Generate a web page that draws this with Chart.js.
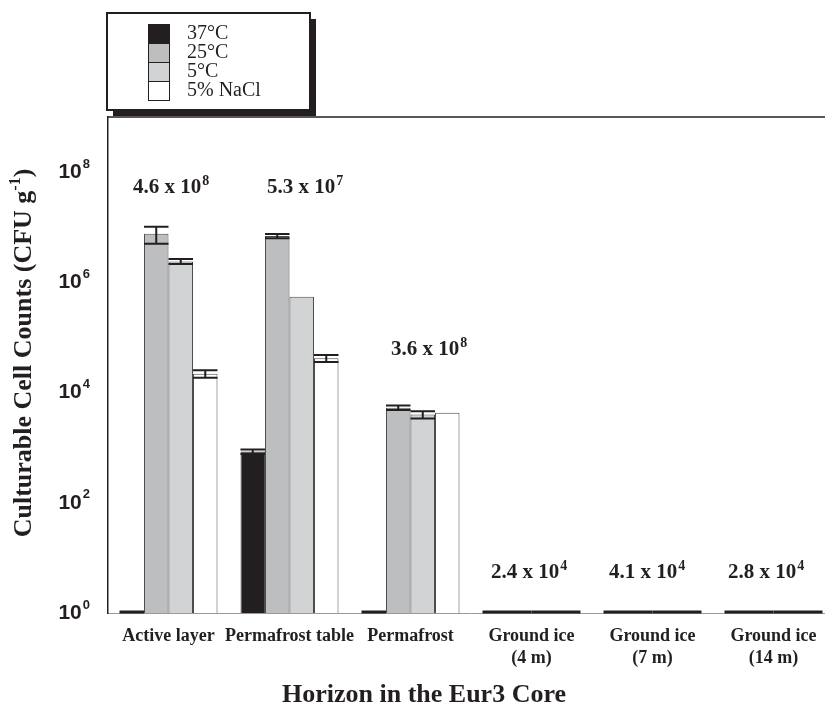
<!DOCTYPE html>
<html>
<head>
<meta charset="utf-8">
<script src="https://cdn.jsdelivr.net/npm/chart.js@4"></script>
<style>
  html, body { margin: 0; padding: 0; background: #fff; overflow: hidden; }
  #wrap { width: 840px; height: 716px; }
</style>
</head>
<body>
<div id="wrap"><canvas id="chart" width="840" height="716"></canvas></div>
<script>
// horizons along the core
const horizons = ["Active layer", "Permafrost table", "Permafrost",
  ["Ground ice", "(4 m)"], ["Ground ice", "(7 m)"], ["Ground ice", "(14 m)"]];
const series = ["37°C", "25°C", "5°C", "5% NaCl"];
const colors = ["#231f20", "#bcbec0", "#d1d3d4", "#ffffff"];

// CFU per gram, 0 = no growth
const counts37 = [0, 850, 0, 0, 0, 0];
const counts25 = [7.6e6, 6.9e6, 5.3e3, 0, 0, 0];
const counts5 = [2.4e6, 5.5e5, 4.0e3, 0, 0, 0];
const countsNaCl = [2.2e4, 4.2e4, 4.3e3, 0, 0, 0];

const err37 = [0, 80, 0, 0, 0, 0];
const err25 = [2.6e6, 0.6e6, 0.5e3, 0, 0, 0];
const err5 = [0.25e6, 0, 0.6e3, 0, 0, 0];
const errNaCl = [0.35e4, 0.6e4, 0, 0, 0, 0];

// total counts printed above each horizon
const totalMant = ["4.6", "5.3", "3.6", "2.4", "4.1", "2.8"];
const totalExp = ["8", "7", "8", "4", "4", "4"];

const yTicks = [1, 1e2, 1e4, 1e6, 1e8];

const allCounts = [counts37, counts25, counts5, countsNaCl];
const allErr = [err37, err25, err5, errNaCl];

const serif = "'Liberation Serif', 'Times New Roman', serif";
const sans = "'Liberation Sans', Arial, sans-serif";

const extras = {
  id: "extras",
  afterDatasetsDraw(chart) {
    const ctx = chart.ctx;
    const y = chart.scales.y;
    const area = chart.chartArea;
    ctx.save();
    allCounts.forEach((vals, j) => {
      const meta = chart.getDatasetMeta(j);
      vals.forEach((v, i) => {
        const el = meta.data[i];
        const w = el.width;
        ctx.strokeStyle = "#231f20";
        if (!v) {
          // no growth: heavy line on the baseline
          ctx.lineWidth = 3;
          ctx.beginPath();
          ctx.moveTo(el.x - w / 2, area.bottom - 1);
          ctx.lineTo(el.x + w / 2, area.bottom - 1);
          ctx.stroke();
          return;
        }
        const e = allErr[j][i];
        if (!e) return;
        const hi = y.getPixelForValue(v + e);
        const lo = y.getPixelForValue(v - e);
        ctx.lineWidth = 2;
        ctx.beginPath();
        ctx.moveTo(el.x, hi); ctx.lineTo(el.x, lo);
        ctx.moveTo(el.x - w / 2, hi); ctx.lineTo(el.x + w / 2, hi);
        ctx.moveTo(el.x - w / 2, lo); ctx.lineTo(el.x + w / 2, lo);
        ctx.stroke();
      });
    });
    ctx.restore();
  },
  afterDraw(chart) {
    const ctx = chart.ctx;
    const area = chart.chartArea;
    const x = chart.scales.x;
    const y = chart.scales.y;
    ctx.save();

    // top frame line
    ctx.strokeStyle = "#231f20";
    ctx.lineWidth = 1.5;
    ctx.beginPath();
    ctx.moveTo(area.left, area.top);
    ctx.lineTo(chart.width, area.top);
    ctx.stroke();

    // y tick labels 10^n
    ctx.fillStyle = "#231f20";
    ctx.textBaseline = "middle";
    yTicks.forEach(v => {
      const py = y.getPixelForValue(v);
      const exp = String(Math.round(Math.log10(v)));
      ctx.font = "bold 13px " + sans;
      const ew = ctx.measureText(exp).width;
      ctx.textAlign = "left";
      ctx.fillText(exp, 90 - ew, py - 8);
      ctx.font = "bold 21px " + sans;
      ctx.textAlign = "right";
      ctx.fillText("10", 90 - ew - 1, py);
    });

    // totals above each horizon
    const dx = [2, 15, 18, -3, -6, -8];
    const dy = [71, 71, 233, 456, 456, 456];
    totalMant.forEach((m, i) => {
      const base = m + " x 10";
      ctx.font = "bold 21px " + serif;
      const bw = ctx.measureText(base).width;
      ctx.font = "bold 14px " + serif;
      const ew = ctx.measureText(totalExp[i]).width;
      const cx = x.getPixelForValue(i) + dx[i];
      const left = cx - (bw + ew) / 2;
      const py = area.top + dy[i];
      ctx.textAlign = "left";
      ctx.textBaseline = "middle";
      ctx.font = "bold 21px " + serif;
      ctx.fillText(base, left, py);
      ctx.font = "bold 14px " + serif;
      ctx.fillText(totalExp[i], left + bw + 1, py - 7);
    });

    // y axis title, rotated
    ctx.save();
    ctx.translate(24, 353);
    ctx.rotate(-Math.PI / 2);
    const t1 = "Culturable Cell Counts (CFU g";
    const t2 = "-1";
    const t3 = ")";
    ctx.font = "bold 26px " + serif;
    const w1 = ctx.measureText(t1).width;
    const w3 = ctx.measureText(t3).width;
    ctx.font = "bold 16px " + serif;
    const w2 = ctx.measureText(t2).width;
    let sx = -(w1 + w2 + w3) / 2;
    ctx.textAlign = "left";
    ctx.textBaseline = "middle";
    ctx.font = "bold 26px " + serif;
    ctx.fillText(t1, sx, 0);
    ctx.font = "bold 16px " + serif;
    ctx.fillText(t2, sx + w1, -8);
    ctx.font = "bold 26px " + serif;
    ctx.fillText(t3, sx + w1 + w2, 0);
    ctx.restore();

    // x axis title
    ctx.font = "bold 26px " + serif;
    ctx.textAlign = "center";
    ctx.textBaseline = "middle";
    ctx.fillText("Horizon in the Eur3 Core", 424, 695);

    // boxed legend with drop shadow
    const lx = 107, ly = 13, lw = 203, lh = 97;
    ctx.fillStyle = "#231f20";
    ctx.fillRect(lx + 6, ly + 6, lw, lh);
    ctx.fillStyle = "#fff";
    ctx.fillRect(lx, ly, lw, lh);
    ctx.strokeStyle = "#231f20";
    ctx.lineWidth = 2;
    ctx.strokeRect(lx, ly, lw, lh);
    series.forEach((s, j) => {
      const ry = 24 + j * 19;
      ctx.fillStyle = colors[j];
      ctx.fillRect(148, ry, 21, 19);
      ctx.lineWidth = 1;
      ctx.strokeStyle = "#231f20";
      ctx.strokeRect(148.5, ry + 0.5, 21, 19);
      ctx.fillStyle = "#231f20";
      ctx.font = "20px " + serif;
      ctx.textAlign = "left";
      ctx.textBaseline = "middle";
      ctx.fillText(s, 187, ry + 10);
    });
    ctx.restore();
  }
};

new Chart(document.getElementById("chart"), {
  type: "bar",
  data: {
    labels: horizons,
    datasets: series.map((s, j) => ({
      label: s,
      data: allCounts[j].map(v => v > 0 ? v : null),
      backgroundColor: colors[j],
      borderColor: "#4d4d4d",
      borderWidth: 1,
      borderSkipped: "bottom"
    }))
  },
  options: {
    responsive: false,
    animation: false,
    devicePixelRatio: 1,
    layout: { padding: { top: 117, right: 6, left: 0, bottom: 0 } },
    datasets: { bar: { categoryPercentage: 0.81, barPercentage: 1.0 } },
    plugins: { legend: { display: false }, tooltip: { enabled: false } },
    scales: {
      x: {
        grid: { display: false },
        border: { color: "#9a9a9a", width: 1 },
        ticks: {
          color: "#231f20",
          font: { family: serif, size: 18, weight: "bold", lineHeight: 1.2 },
          padding: 5,
          maxRotation: 0,
          autoSkip: false
        },
        afterFit(scale) { scale.height = 103; }
      },
      y: {
        type: "logarithmic",
        min: 1,
        max: 1e9,
        grid: { display: false, drawTicks: false },
        border: { color: "#231f20", width: 1.5 },
        ticks: { display: false },
        afterBuildTicks(scale) { scale.ticks = yTicks.map(v => ({ value: v })); },
        afterFit(scale) { scale.width = 108; }
      }
    }
  },
  plugins: [extras]
});
</script>
</body>
</html>
